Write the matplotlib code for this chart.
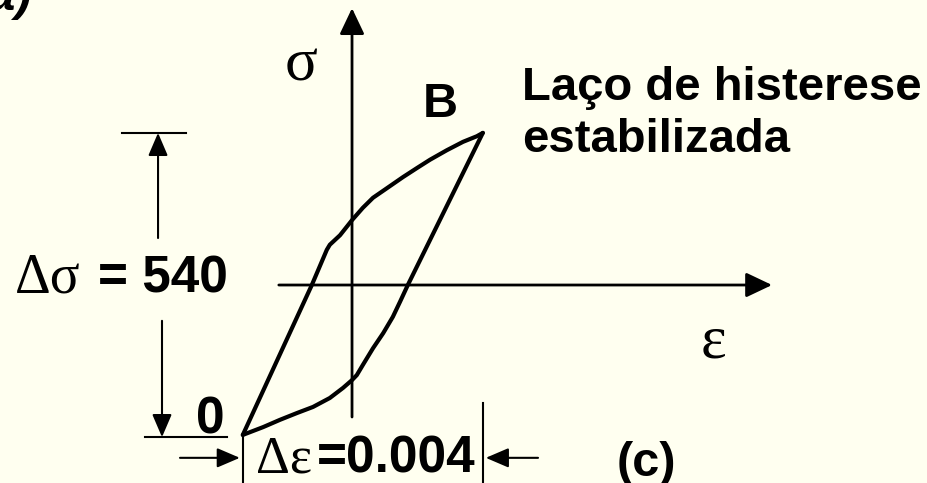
import numpy as np
import matplotlib
matplotlib.use('Agg')
import matplotlib.pyplot as plt

# stabilised hysteresis loop (strain, stress in MPa)
load_eps = [-0.00182, -0.00067, -0.00042, -0.00037, -0.0002, 0.0, 0.00018, 0.00035, 0.00058,
            0.00085, 0.00108, 0.0013, 0.00158, 0.00185, 0.00208, 0.00218]
load_sig = [-268, 0, 63, 72, 89, 116, 138, 156, 173, 193, 209, 224, 241, 256, 266, 272]

unload_eps = [0.00218, 0.00093, 0.0008, 0.00068, 0.00052, 0.00035, 0.00018, 0.00008, 0.0,
              -0.00015, -0.00037, -0.00065, -0.00092, -0.0012, -0.00148, -0.00182]
unload_sig = [272, 0, -30, -57, -86, -113, -143, -161, -170, -184, -202, -218, -229, -241, -254, -268]

delta_sigma = 540
delta_eps = 0.004

eps_min, eps_max = min(load_eps), max(load_eps)
sig_min, sig_max = min(load_sig), max(load_sig)

bg = '#FFFFF0'
sans = 'Liberation Sans'
serif = 'Liberation Serif'

fig = plt.figure(figsize=(9.27, 4.83), dpi=100, facecolor=bg)
ax = fig.add_axes([0, 0, 1, 1])
ax.set_facecolor(bg)
ax.set_xlim(-0.005867, 0.009583)
ax.set_ylim(-354, 509.6)
ax.axis('off')

def arrow(x0, y0, x1, y1, lw=1.5, ms=20, hl=0.6, hw=0.3):
    ax.annotate('', xy=(x1, y1), xytext=(x0, y0),
                arrowprops=dict(arrowstyle='-|>,head_length=%g,head_width=%g' % (hl, hw),
                                mutation_scale=ms, lw=lw, color='black',
                                shrinkA=0, shrinkB=0))

# axes
arrow(0, -236, 0, 495, lw=2.0, ms=20, hl=0.8, hw=0.38)
arrow(-0.00122, 0, 0.0070, 0, lw=2.0, ms=20, hl=0.8, hw=0.38)

# loop
ax.plot(load_eps, load_sig, color='black', lw=3.0, solid_joinstyle='round', solid_capstyle='round')
ax.plot(unload_eps, unload_sig, color='black', lw=3.0, solid_joinstyle='round', solid_capstyle='round')

# stress range dimension
ax.plot([-0.003833, -0.002767], [sig_max, sig_max], color='black', lw=1.5)
ax.plot([-0.00345, eps_min - 0.00026], [sig_min - 4, sig_min - 4], color='black', lw=1.5)
arrow(-0.003233, 84, -0.003233, sig_max, ms=20, hl=0.7, hw=0.3)
arrow(-0.003167, -64, -0.003167, sig_min - 4, ms=20, hl=0.7, hw=0.3)

# strain range dimension
ax.plot([eps_min, eps_min], [sig_min, -360], color='black', lw=1.5)
ax.plot([eps_max, eps_max], [-211, -360], color='black', lw=1.5)
arrow(-0.002867, -309, eps_min - 0.00005, -309, ms=20, hl=0.7, hw=0.3)
arrow(0.0031, -309, eps_max + 0.00005, -309, ms=20, hl=0.7, hw=0.3)

# labels
ax.text(-0.00085, 366, 'σ', fontsize=44, family=serif, ha='center', va='baseline')
ax.text(0.00603, -130, 'ε', fontsize=44, family=serif, ha='center', va='baseline')
ax.text(0.00147, 300, 'B', fontsize=35, family=sans, weight='bold', ha='center', va='baseline')
ax.text(0.00283, 331, 'Laço de histerese', fontsize=34, family=sans, weight='bold', ha='left', va='baseline')
ax.text(0.00283, 238, 'estabilizada', fontsize=34, family=sans, weight='bold', ha='left', va='baseline')

ax.text(-0.005617, -14, 'Δσ', fontsize=40, family=serif, ha='left', va='baseline')
ax.text(-0.00207, -14, '= %d' % delta_sigma, fontsize=37, family=sans, weight='bold', ha='right', va='baseline')
ax.text(-0.002117, -265, '0', fontsize=37, family=sans, weight='bold', ha='right', va='baseline')

ax.text(-0.0016, -336, 'Δε', fontsize=38, family=serif, ha='left', va='baseline')
ax.text(0.00205, -336, '=%.3f' % delta_eps, fontsize=37, family=sans, weight='bold', ha='right', va='baseline')
ax.text(0.0049, -341, '(c)', fontsize=35, family=sans, weight='bold', ha='center', va='baseline')
ax.text(-0.005333, 492, '(a)', fontsize=35, family=sans, weight='bold', style='italic', ha='right', va='baseline')

fig.savefig('out.png', dpi=100, facecolor=bg)
